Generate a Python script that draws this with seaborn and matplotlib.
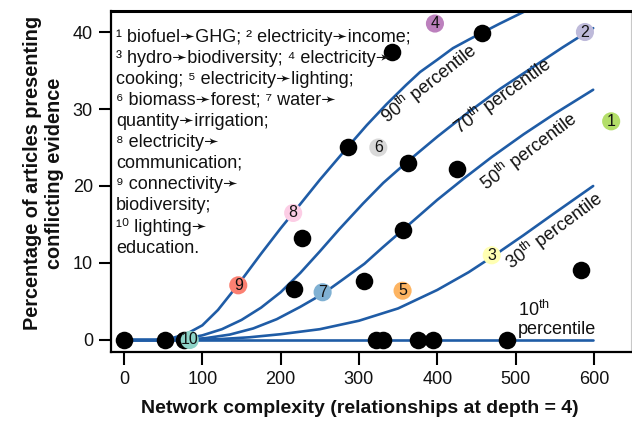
import matplotlib
matplotlib.use("Agg")
import matplotlib.pyplot as plt
import pandas as pd
import seaborn as sns

# ---- observed studies: network complexity vs. share of conflicting articles ----
complexity = [0, 53, 77, 322, 331, 376, 395, 489,
              217, 227, 286, 342, 457, 362, 425, 356, 307, 583]
conflict_pct = [0, 0, 0, 0, 0, 0, 0, 0,
                6.6, 13.2, 25.1, 37.4, 39.9, 23.0, 22.2, 14.3, 7.7, 9.1]

# ---- highlighted relationships (numbered in the footnote) ----
example_id = ["1", "2", "3", "4", "5", "6", "7", "8", "9", "10"]
example_x = [622, 588.5, 469.5, 397, 355.7, 324.7, 253.6, 216, 145.9, 84]
example_y = [28.4, 40.0, 11.0, 41.1, 6.4, 25.0, 6.2, 16.5, 7.1, 0]
example_color = ["#b3de69", "#bebada", "#ffffb3", "#bc80bd", "#fdb462",
                 "#d9d9d9", "#80b1d3", "#fccde5", "#fb8072", "#8dd3c7"]

# ---- fitted quantile curves ----
q90_x = [0, 40, 60, 80, 100, 120, 145, 175, 200, 216, 250, 286, 310, 335,
         360, 378, 400, 420, 440, 457, 480, 510, 540]
q90_y = [0, 0, 0.2, 0.8, 1.9, 3.9, 7.1, 11.2, 14.5, 16.5, 20.8, 25.1, 27.9,
         30.6, 33.1, 34.8, 36.4, 37.9, 39.0, 39.9, 41.1, 42.6, 44.0]

q70_x = [0, 60, 80, 100, 125, 150, 175, 200, 225, 250, 275, 305, 331, 360,
         400, 440, 480, 520, 560, 599]
q70_y = [0, 0, 0.2, 0.6, 1.4, 2.6, 4.2, 6.2, 8.7, 11.5, 14.4, 17.7, 20.4,
         23.0, 26.4, 29.6, 32.6, 35.3, 38.0, 40.5]

q50_x = [0, 60, 80, 105, 135, 165, 195, 225, 254, 280, 307, 330, 356, 400,
         433, 470, 510, 550, 599]
q50_y = [0, 0, 0.05, 0.25, 0.7, 1.5, 2.7, 4.3, 6.0, 7.9, 9.9, 12.0, 14.3,
         18.2, 20.9, 23.8, 26.7, 29.4, 32.5]

q30_x = [0, 80, 120, 160, 200, 250, 300, 350, 400, 440, 470, 510, 550, 599]
q30_y = [0, 0, 0.1, 0.35, 0.75, 1.4, 2.5, 4.1, 6.5, 8.8, 10.8, 13.6, 16.5, 20.0]

q10_x = [0, 599]
q10_y = [0, 0]

curves = [(q90_x, q90_y), (q70_x, q70_y), (q50_x, q50_y),
          (q30_x, q30_y), (q10_x, q10_y)]

x_ticks = [0, 100, 200, 300, 400, 500, 600]
y_ticks = [0, 10, 20, 30, 40]

footnote = ("¹ biofuel➛GHG; ² electricity➛income;\n"
            "³ hydro➛biodiversity; ⁴ electricity➛\n"
            "cooking; ⁵ electricity➛lighting;\n"
            "⁶ biomass➛forest; ⁷ water➛\n"
            "quantity➛irrigation;\n"
            "⁸ electricity➛\n"
            "communication;\n"
            "⁹ connectivity➛\n"
            "biodiversity;\n"
            "¹⁰ lighting➛\n"
            "education.")

sns.set_theme(style="ticks")
plt.rcParams["font.family"] = ["Liberation Sans", "DejaVu Sans"]
plt.rcParams["mathtext.fontset"] = "custom"
plt.rcParams["mathtext.rm"] = "Liberation Sans"
plt.rcParams["mathtext.it"] = "Liberation Sans:italic"
plt.rcParams["mathtext.bf"] = "Liberation Sans:bold"

LINE = "#1f5ca6"

fig = plt.figure(figsize=(6.32, 4.21), dpi=100)
ax = fig.add_axes([0.1756, 0.1639, 0.8228, 0.8100])

for cx, cy in curves:
    sns.lineplot(x=cx, y=cy, ax=ax, color=LINE, linewidth=1.9,
                 sort=False, estimator=None, zorder=2)

sns.scatterplot(x=complexity, y=conflict_pct, ax=ax, color="black",
                s=160, linewidth=0, zorder=3, legend=False)

ex = pd.DataFrame({"id": example_id, "x": example_x, "y": example_y})
sns.scatterplot(data=ex, x="x", y="y", hue="id",
                palette=dict(zip(example_id, example_color)),
                s=170, linewidth=0, zorder=4, legend=False, ax=ax)
for i, xv, yv in zip(example_id, example_x, example_y):
    ax.text(xv, yv, i, ha="center", va="center", fontsize=11.5,
            color="#111111", zorder=5)

# percentile annotations along the curves
pct_labels = [("90", 389, 33.3, 38), ("70", 484, 31.6, 36),
              ("50", 517, 24.5, 37), ("30", 549, 14.2, 36.5)]
for p, xv, yv, rot in pct_labels:
    ax.text(xv, yv, p + r"$^{\mathrm{th}}$ percentile", rotation=rot,
            rotation_mode="anchor", ha="center", va="center",
            fontsize=13, color="#111111")
ax.text(503, 3.1, r"10$^{\mathrm{th}}$", ha="left", va="baseline",
        fontsize=13, color="#111111")
ax.text(503, 0.78, "percentile", ha="left", va="baseline",
        fontsize=13, color="#111111")

ax.text(0.0096, 0.948, footnote, transform=ax.transAxes, ha="left", va="top",
        fontsize=13, linespacing=1.31, color="#111111")

ax.set_xlim(-16.6, 647.3)
ax.set_ylim(-1.56, 42.73)
ax.set_xticks(x_ticks)
ax.set_yticks(y_ticks)
ax.tick_params(axis="both", direction="out", length=9, width=1.5,
               labelsize=13, color="black", labelcolor="#111111")
ax.tick_params(axis="x", pad=5)
ax.tick_params(axis="y", pad=4)

ax.set_xlabel("Network complexity (relationships at depth = 4)",
              fontsize=14, fontweight="bold", color="#111111")
ax.set_ylabel("Percentage of articles presenting\nconflicting evidence",
              fontsize=14.3, fontweight="bold", color="#111111")
ax.xaxis.set_label_coords(0.479, -0.14)
ax.yaxis.set_label_coords(-0.09, 0.525)

for side in ("left", "bottom"):
    ax.spines[side].set_color("black")
    ax.spines[side].set_linewidth(1.6)
ax.spines["top"].set_visible(True)
ax.spines["top"].set_color("black")
ax.spines["top"].set_linewidth(2.2)
ax.spines["right"].set_visible(True)
ax.spines["right"].set_color("#c8c8c8")
ax.spines["right"].set_linewidth(0.8)

fig.savefig("out.png", dpi=100)
